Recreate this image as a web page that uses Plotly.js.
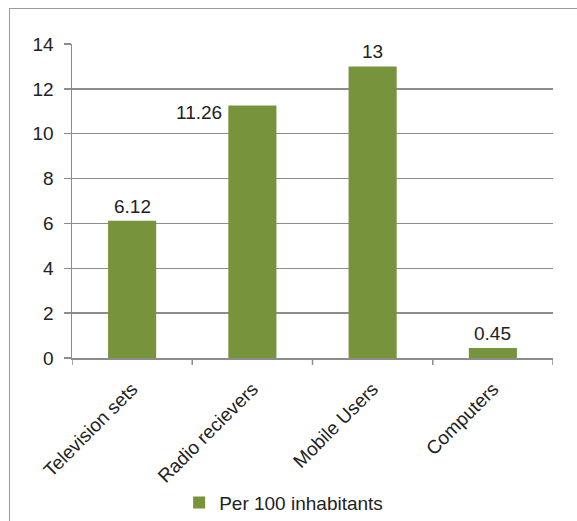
<!DOCTYPE html>
<html>
<head>
<meta charset="utf-8">
<script src="https://cdn.plot.ly/plotly-3.0.1.min.js"></script>
<style>
  html, body { margin: 0; padding: 0; background: #fff; }
  #wrap { position: relative; width: 577px; height: 521px; overflow: hidden; }
  #chart { width: 577px; height: 521px; }
  #frame { position: absolute; left: 9px; top: 8px; width: 640px; height: 600px;
           border: 1px solid #9a9a9a; box-sizing: border-box; pointer-events: none; }
</style>
</head>
<body>
<div id="wrap">
  <div id="chart"></div>
  <div id="frame"></div>
</div>
<script>
const categories = ["Television sets", "Radio recievers", "Mobile Users", "Computers"];
const values = [6.12, 11.26, 13, 0.45];
const valueLabels = ["6.12", "11.26", "13", "0.45"];
const seriesName = "Per 100 inhabitants";
const yTicks = [0, 2, 4, 6, 8, 10, 12, 14];
const labelOffsets = [[0, 0], [-53, -22], [0, 0], [0, 0]];

const font = { family: "Liberation Sans, Arial, sans-serif", size: 19, color: "#222" };

const trace = {
  type: "bar",
  x: [0, 1, 2, 3],
  y: values,
  name: seriesName,
  marker: { color: "#77933C" },
  width: 0.4,
  showlegend: true,
  hoverinfo: "none"
};

const annotations = values.map((v, i) => ({
  x: i, y: v, xref: "x", yref: "y",
  text: valueLabels[i],
  showarrow: false,
  yanchor: "bottom",
  xanchor: "center",
  xshift: labelOffsets[i][0],
  yshift: 2 + labelOffsets[i][1],
  font: font
}));

const layout = {
  width: 577, height: 521,
  margin: { l: 72, r: 24, t: 44, b: 163, autoexpand: false },
  paper_bgcolor: "#fff",
  plot_bgcolor: "#fff",
  font: font,
  xaxis: {
    range: [-0.5, 3.5],
    tickmode: "array",
    tickvals: [0, 1, 2, 3],
    ticktext: categories,
    tickangle: -45,
    showgrid: false,
    zeroline: false,
    showline: true,
    linecolor: "#8c8c8c",
    linewidth: 1.5,
    ticks: "",
    tickfont: font,
    ticklabelstandoff: 11,
    automargin: false,
    fixedrange: true
  },
  yaxis: {
    range: [0, 14],
    tickmode: "array",
    tickvals: yTicks,
    ticktext: yTicks.map(String),
    showgrid: true,
    gridcolor: "#8c8c8c",
    gridwidth: 1.5,
    zeroline: false,
    showline: true,
    linecolor: "#8c8c8c",
    linewidth: 1.5,
    ticks: "outside",
    ticklen: 7,
    tickcolor: "#8c8c8c",
    tickwidth: 1.5,
    tickfont: font,
    ticklabelstandoff: 6,
    automargin: false,
    fixedrange: true
  },
  shapes: [-0.5, 0.5, 1.5, 2.5, 3.5].map(b => ({
    type: "line", xref: "x", yref: "paper",
    x0: b, x1: b, y0: 0, y1: -0.022,
    line: { color: "#8c8c8c", width: 1.5 }
  })),
  annotations: annotations,
  showlegend: true,
  legend: {
    orientation: "h",
    x: 0.44, xanchor: "center",
    y: -0.40, yanchor: "top",
    font: font,
    itemwidth: 30,
    bgcolor: "rgba(0,0,0,0)"
  },
  bargap: 0.6
};

Plotly.newPlot("chart", [trace], layout, { displayModeBar: false, staticPlot: true });
</script>
</body>
</html>
